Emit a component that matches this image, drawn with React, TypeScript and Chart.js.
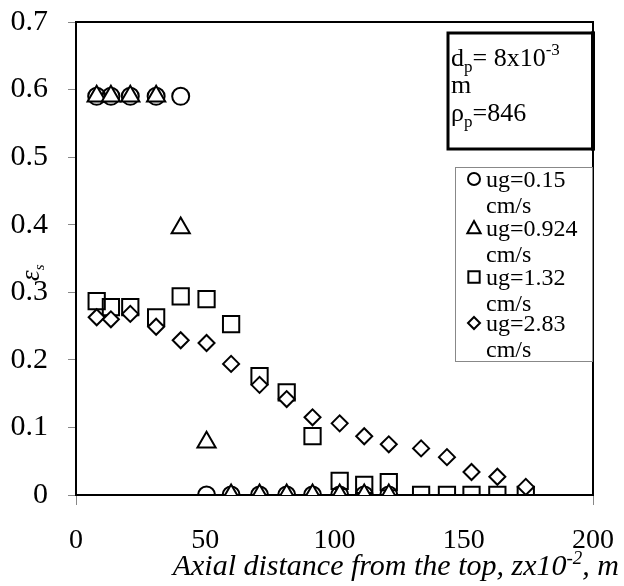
import { useEffect, useRef } from "react";
import { Chart, registerables } from "chart.js";

Chart.register(...registerables);

// Axial positions (x10^-2 m)
const xCircle = [8, 13.5, 21, 31, 40.5, 50.5, 60, 71, 81.5, 91.5, 102, 111.5, 121];
const yCircle = [0.59, 0.59, 0.59, 0.59, 0.59, 0, 0, 0, 0, 0, 0, 0, 0];

const xTriangle = [8, 13.5, 21, 31, 40.5, 50.5, 60, 71, 81.5, 91.5, 102, 111.5, 121];
const yTriangle = [0.59, 0.59, 0.59, 0.59, 0.395, 0.078, 0, 0, 0, 0, 0, 0, 0];

const xSquare = [8, 13.5, 21, 31, 40.5, 50.5, 60, 71, 81.5, 91.5, 102, 111.5, 121, 133.5, 143.5, 153, 163, 174];
const ySquare = [0.287, 0.278, 0.278, 0.263, 0.294, 0.29, 0.253, 0.176, 0.152, 0.087, 0.021, 0.015, 0.019, 0, 0, 0, 0, 0];

const xDiamond = [8, 13.5, 21, 31, 40.5, 50.5, 60, 71, 81.5, 91.5, 102, 111.5, 121, 133.5, 143.5, 153, 163, 174];
const yDiamond = [0.263, 0.26, 0.268, 0.249, 0.229, 0.225, 0.194, 0.163, 0.142, 0.115, 0.106, 0.087, 0.075, 0.069, 0.056, 0.034, 0.027, 0.012];

const seriesLabels = ["ug=0.15", "ug=0.924", "ug=1.32", "ug=2.83"];
const unitLabel = "cm/s";
const xTicks = [0, 50, 100, 150, 200];
const yTicks = [0, 0.1, 0.2, 0.3, 0.4, 0.5, 0.6, 0.7];

const SERIF = "'Liberation Serif', 'Times New Roman', serif";

function pts(xs: number[], ys: number[]) {
  return xs.map((x, i) => ({ x, y: ys[i] }));
}

function drawMarker(ctx: CanvasRenderingContext2D, style: string, r: number, x: number, y: number) {
  ctx.beginPath();
  if (style === "circle") {
    ctx.arc(x, y, r, 0, Math.PI * 2);
  } else if (style === "triangle") {
    ctx.moveTo(x, y - r);
    ctx.lineTo(x + r * 0.95, y + r * 0.75);
    ctx.lineTo(x - r * 0.95, y + r * 0.75);
    ctx.closePath();
  } else if (style === "rect") {
    const h = r * Math.SQRT1_2;
    ctx.rect(x - h, y - h, 2 * h, 2 * h);
  } else {
    ctx.moveTo(x, y - r);
    ctx.lineTo(x + r, y);
    ctx.lineTo(x, y + r);
    ctx.lineTo(x - r, y);
    ctx.closePath();
  }
  ctx.fill();
  ctx.stroke();
}

const overlayPlugin = {
  id: "overlay",
  afterDraw(chart: any) {
    const ctx = chart.ctx as CanvasRenderingContext2D;
    const ca = chart.chartArea;
    ctx.save();
    // frame top & right
    ctx.strokeStyle = "#000";
    ctx.lineWidth = 2;
    ctx.beginPath();
    ctx.moveTo(ca.left, ca.top);
    ctx.lineTo(ca.right, ca.top);
    ctx.lineTo(ca.right, ca.bottom);
    ctx.stroke();

    // legend box
    const lx = 455, ly = 167, lw = 137, lh = 194;
    ctx.fillStyle = "#fff";
    ctx.fillRect(lx, ly, lw, lh);
    ctx.strokeStyle = "#888";
    ctx.lineWidth = 1;
    ctx.strokeRect(lx + 0.5, ly + 0.5, lw, lh);
    const styles = ["circle", "triangle", "rect", "rectRot"];
    const radii = [6, 7, 8, 6];
    const centers = [179, 228, 277, 323];
    ctx.textBaseline = "alphabetic";
    ctx.textAlign = "left";
    for (let i = 0; i < 4; i++) {
      ctx.strokeStyle = "#000";
      ctx.lineWidth = 2;
      ctx.fillStyle = "#fff";
      drawMarker(ctx, styles[i], radii[i], 474, centers[i]);
      ctx.fillStyle = "#000";
      ctx.font = `24px ${SERIF}`;
      ctx.fillText(seriesLabels[i], 486, centers[i] + 8);
      ctx.fillText(unitLabel, 486, centers[i] + 34);
    }

    // text box
    const bx = 448, by = 33, bw = 145, bh = 116;
    ctx.fillStyle = "#fff";
    ctx.fillRect(bx, by, bw, bh);
    ctx.strokeStyle = "#000";
    ctx.lineWidth = 3;
    ctx.strokeRect(bx, by, bw, bh);
    ctx.lineWidth = 4;
    ctx.beginPath();
    ctx.moveTo(bx + bw, by - 1.5);
    ctx.lineTo(bx + bw, by + bh + 1.5);
    ctx.stroke();
    ctx.fillStyle = "#000";
    const big = `26px ${SERIF}`;
    const small = `17px ${SERIF}`;
    let tx = 451;
    ctx.font = big;
    ctx.fillText("d", tx, 66);
    tx += ctx.measureText("d").width;
    ctx.font = small;
    ctx.fillText("p", tx, 72);
    tx += ctx.measureText("p").width;
    ctx.font = big;
    ctx.fillText("= 8x10", tx, 66);
    tx += ctx.measureText("= 8x10").width;
    ctx.font = small;
    ctx.fillText("-3", tx, 55);
    ctx.font = big;
    ctx.fillText("m", 451, 93);
    tx = 451;
    ctx.fillText("ρ", tx, 121);
    tx += ctx.measureText("ρ").width;
    ctx.font = small;
    ctx.fillText("p", tx, 127);
    tx += ctx.measureText("p").width;
    ctx.font = big;
    ctx.fillText("=846", tx, 121);

    // x axis title
    const parts: [string, number, number][] = [
      ["Axial distance from the top, zx10", 30, 0],
      ["-2", 19, -11],
      [", m", 30, 0],
    ];
    let total = 0;
    for (const [t, s] of parts) {
      ctx.font = `italic ${s}px ${SERIF}`;
      total += ctx.measureText(t).width;
    }
    let px = 619 - total;
    for (const [t, s, dy] of parts) {
      ctx.font = `italic ${s}px ${SERIF}`;
      ctx.fillText(t, px, 575 + dy);
      px += ctx.measureText(t).width;
    }

    // y axis title (rotated epsilon_s)
    ctx.translate(39, 281);
    ctx.rotate(-Math.PI / 2);
    ctx.font = `italic 27px ${SERIF}`;
    ctx.fillText("ε", 0, 0);
    const ew = ctx.measureText("ε").width;
    ctx.font = `italic 15px ${SERIF}`;
    ctx.fillText("s", ew, 5);
    ctx.restore();
  },
};

export default function App() {
  const ref = useRef<HTMLCanvasElement | null>(null);

  useEffect(() => {
    document.body.style.margin = "0";
    if (!ref.current) return;
    const chart = new Chart(ref.current, {
      type: "scatter",
      data: {
        datasets: [
          {
            label: seriesLabels[3],
            data: pts(xDiamond, yDiamond),
            pointStyle: "rectRot",
            pointRadius: 8,
            borderColor: "#000",
            backgroundColor: "#fff",
            borderWidth: 2,
            order: 0,
          },
          {
            label: seriesLabels[1],
            data: pts(xTriangle, yTriangle),
            pointStyle: "triangle",
            pointRadius: 10.5,
            borderColor: "#000",
            backgroundColor: "#fff",
            borderWidth: 2,
            order: 1,
          },
          {
            label: seriesLabels[0],
            data: pts(xCircle, yCircle),
            pointStyle: "circle",
            pointRadius: 8.5,
            borderColor: "#000",
            backgroundColor: "rgba(0,0,0,0)",
            borderWidth: 2,
            order: 2,
          },
          {
            label: seriesLabels[2],
            data: pts(xSquare, ySquare),
            pointStyle: "rect",
            pointRadius: 11.5,
            borderColor: "#000",
            backgroundColor: "rgba(0,0,0,0)",
            borderWidth: 2,
            order: 3,
          },
        ],
      },
      options: {
        responsive: false,
        animation: false,
        devicePixelRatio: 1,
        layout: { padding: { top: 22, right: 31, left: 0, bottom: 0 } },
        plugins: { legend: { display: false }, tooltip: { enabled: false } },
        scales: {
          x: {
            type: "linear",
            min: 0,
            max: 200,
            afterFit: (s: any) => {
              s.height = 91;
              s.paddingLeft = 0;
              s.paddingRight = 0;
            },
            afterBuildTicks: (s: any) => {
              s.ticks = xTicks.map((v) => ({ value: v }));
            },
            ticks: {
              font: { family: SERIF, size: 28 },
              color: "#000",
              padding: 19,
              maxRotation: 0,
              autoSkip: false,
            },
            grid: {
              drawOnChartArea: false,
              tickLength: 10,
              color: (c: any) => (c.tick && (c.tick.value === 0 || c.tick.value === 200) ? "#888" : "rgba(0,0,0,0)"),
            },
            border: { color: "#000", width: 2 },
          },
          y: {
            type: "linear",
            min: 0,
            max: 0.7,
            afterFit: (s: any) => {
              s.width = 76;
              s.paddingTop = 0;
              s.paddingBottom = 0;
            },
            afterBuildTicks: (s: any) => {
              s.ticks = yTicks.map((v) => ({ value: v }));
            },
            ticks: {
              font: { family: SERIF, size: 30 },
              color: "#000",
              padding: 20,
              autoSkip: false,
              callback: (v: any) => (Number(v) === 0 ? "0" : Number(v).toFixed(1)),
            },
            grid: {
              drawOnChartArea: false,
              tickLength: 8,
              color: "#888",
            },
            border: { color: "#000", width: 2 },
          },
        },
      },
      plugins: [overlayPlugin],
    });
    return () => chart.destroy();
  }, []);

  return (
    <div style={{ position: "fixed", left: 0, top: 0, width: 624, height: 586, background: "#fff" }}>
      <canvas ref={ref} width={624} height={586} />
    </div>
  );
}
